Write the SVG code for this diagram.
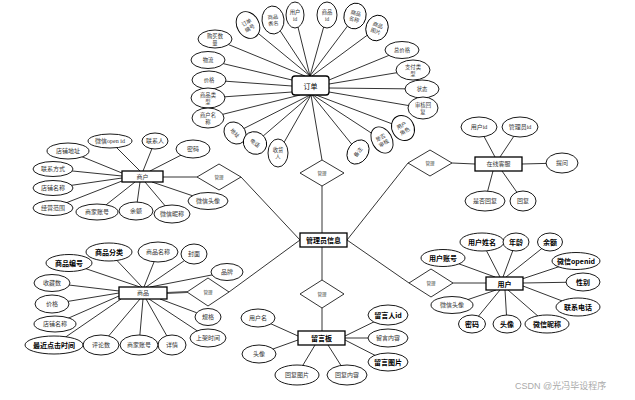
<svg xmlns="http://www.w3.org/2000/svg" width="635" height="400" viewBox="0 0 635 400">
<style>
.l{stroke:#000;stroke-width:0.8;fill:none}
.e{fill:#fff;stroke:#000;stroke-width:0.9}
.r{fill:#fff;stroke:#000;stroke-width:1.3}
.d{fill:#fff;stroke:#000;stroke-width:0.8}
.t{font-family:"Liberation Serif","Noto Sans CJK SC",serif;font-size:6px;fill:#333;text-anchor:middle;dominant-baseline:central}
.s{font-size:5.3px}
.b{font-family:"Noto Sans CJK SC","Liberation Sans",sans-serif;font-weight:bold;font-size:7px;fill:#000;text-anchor:middle;dominant-baseline:central}
.m{font-family:"Liberation Serif","Noto Sans CJK SC",serif;font-size:4.5px;fill:#444;text-anchor:middle;dominant-baseline:central}
.n{font-family:"Noto Sans CJK SC","Liberation Sans",sans-serif;font-size:7px;fill:#000;text-anchor:middle;dominant-baseline:central}
</style>
<rect width="635" height="400" fill="#fff"/>
<g id="connectors">
<!-- order -->
<path class="l" d="M248,25L310,76M273,20L310,76M295,15L310,76M327,15L310,76M355,16L310,76M377,28L312,76M215,39L305,76M208,60L292,80M209,80L292,86M208,98L292,92M208,118L300,95M235,133L310,95M255,143L311,95M278,153L311,95M358,152L312,95M382,140L313,95M403,128L316,95M402,50L329,80M413,70L329,84M422,89L329,88M423,108L329,92M311,95L322,160"/>
<!-- hub -->
<path class="l" d="M322,186L322,233M322,247L322,280M322,308L322,331M300,240L241,177M347,240L408,163M300,240L229,292M347,240L409,283"/>
<!-- merchant -->
<path class="l" d="M110,141L140,171M155,141L143,171M193,149L150,171M68,151L122,173M53,169L122,176M53,188L122,178M53,208L122,181M97,212L135,182M136,211L140,182M172,214L145,182M208,201L152,182M163,177L197,177"/>
<!-- product -->
<path class="l" d="M109,252L142,287M69,263L140,287M158,252L144,287M194,254L146,287M227,272L150,287M52,283L119,291M52,304L119,293M55,324L119,296M54,345L121,299M101,345L140,299M139,345L143,299M172,345L146,299M208,338L149,299M208,317L160,299"/>
<path stroke="#555" stroke-width="2" d="M167,293L187,292"/>
<!-- message board -->
<path class="l" d="M258,318L298,336M259,354L298,340M315,345L297,375M328,345L347,375M345,336L388,315M345,338L388,338M345,340L388,362"/>
<!-- customer service -->
<path class="l" d="M479,127L495,157M520,127L500,157M522,164L562,163M493,171L485,201M502,171L523,201M452,163L475,164"/>
<!-- user -->
<path class="l" d="M443,258L495,277M482,242L500,277M516,242L503,277M550,242L506,277M576,261L522,279M583,282L523,283M578,307L523,286M452,305L496,290M472,324L500,290M507,324L505,290M547,324L508,290M453,283L486,283"/>
</g>

<!-- diamonds -->
<g id="rel-order"><polygon class="d" points="300,173 322,160 344,173 322,186"/><text class="m" x="322" y="173">管理</text></g>
<g id="rel-board"><polygon class="d" points="300,294 322,280 344,294 322,308"/><text class="m" x="322" y="294">管理</text></g>
<g id="rel-merchant"><polygon class="d" points="197,177 219,164 241,177 219,190"/><text class="m" x="219" y="177">管理</text></g>
<g id="rel-product"><polygon class="d" points="187,292 208,278 229,292 208,306"/><text class="m" x="208" y="292">管理</text></g>
<g id="rel-service"><polygon class="d" points="408,163 430,150 452,163 430,176"/><text class="m" x="430" y="163">管理</text></g>
<g id="rel-user"><polygon class="d" points="409,283 431,269 453,283 431,297"/><text class="m" x="431" y="283">管理</text></g>

<!-- entities -->
<g id="order"><rect class="r" x="292" y="76" width="37" height="19" rx="3"/><text class="n" x="310.5" y="85.5" font-size="8">订单</text></g>
<g id="admin"><rect class="r" x="300" y="233" width="47" height="14"/><text class="b" x="323.5" y="240" font-size="7.3">管理员信息</text></g>
<g id="board"><rect class="r" x="298" y="331" width="47" height="14"/><text class="b" x="321.5" y="338" font-size="7.5">留言板</text></g>
<g id="merchant"><rect class="r" x="122" y="171" width="41" height="11"/><text class="t" x="142.5" y="176.5" fill="#000">商户</text></g>
<g id="product"><rect class="r" x="119" y="287" width="48" height="12"/><text class="t" x="143" y="293" fill="#000" font-size="6.5">商品</text></g>
<g id="service"><rect class="r" x="475" y="157" width="47" height="14"/><text class="t" x="498.5" y="164" fill="#000" font-size="7">在线客服</text></g>
<g id="user"><rect class="r" x="486" y="277" width="37" height="13"/><text class="b" x="504.5" y="283.5">用户</text></g>

<!-- order attributes -->
<g id="o-ddbh" transform="translate(248,25) rotate(-30)"><ellipse class="e" rx="11" ry="14"/><text class="t s"><tspan x="0" y="-3">订单</tspan><tspan x="0" y="3.5">编号</tspan></text></g>
<g id="o-spbm" transform="translate(273,20) rotate(-5)"><ellipse class="e" rx="11" ry="14"/><text class="t s"><tspan x="0" y="-3">商品</tspan><tspan x="0" y="3.5">表名</tspan></text></g>
<g id="o-yhid" transform="translate(295,15)"><ellipse class="e" rx="9" ry="13"/><text class="t s"><tspan x="0" y="-3">用户</tspan><tspan x="0" y="3.5">id</tspan></text></g>
<g id="o-spid" transform="translate(327,15)"><ellipse class="e" rx="10" ry="13"/><text class="t s"><tspan x="0" y="-3">商品</tspan><tspan x="0" y="3.5">id</tspan></text></g>
<g id="o-spmc" transform="translate(355,16) rotate(15)"><ellipse class="e" rx="11" ry="13"/><text class="t s"><tspan x="0" y="-3">商品</tspan><tspan x="0" y="3.5">名称</tspan></text></g>
<g id="o-sptp" transform="translate(377,28) rotate(20)"><ellipse class="e" rx="11" ry="13"/><text class="t s"><tspan x="0" y="-3">商品</tspan><tspan x="0" y="3.5">图片</tspan></text></g>
<g id="o-gmsl"><ellipse class="e" cx="215" cy="39" rx="17" ry="9"/><text class="t s"><tspan x="215" y="36">购买数</tspan><tspan x="215" y="42.5">量</tspan></text></g>
<g id="o-wl"><ellipse class="e" cx="208" cy="60" rx="17" ry="8.5"/><text class="t s" x="208" y="60">物流</text></g>
<g id="o-jg"><ellipse class="e" cx="209" cy="80" rx="17" ry="9"/><text class="t s" x="209" y="80">价格</text></g>
<g id="o-splx"><ellipse class="e" cx="208" cy="98" rx="17" ry="10"/><text class="t s"><tspan x="208" y="95">商品类</tspan><tspan x="208" y="101.5">型</tspan></text></g>
<g id="o-shmc"><ellipse class="e" cx="208" cy="118" rx="16" ry="10"/><text class="t s"><tspan x="208" y="115">商户名</tspan><tspan x="208" y="121.5">称</tspan></text></g>
<g id="o-dz" transform="translate(235,133) rotate(45)"><ellipse class="e" rx="12" ry="10"/><text class="t s">地址</text></g>
<g id="o-dh" transform="translate(255,143) rotate(35)"><ellipse class="e" rx="12" ry="11"/><text class="t s">电话</text></g>
<g id="o-shr" transform="translate(278,153)"><ellipse class="e" rx="10" ry="14"/><text class="t s"><tspan x="0" y="-3">收货</tspan><tspan x="0" y="3.5">人</tspan></text></g>
<g id="o-bz" transform="translate(358,152) rotate(-55)"><ellipse class="e" rx="13" ry="10"/><text class="t s">备注</text></g>
<g id="o-sfsh" transform="translate(382,140) rotate(-30)"><ellipse class="e" rx="10" ry="14"/><text class="t s"><tspan x="0" y="-3">是否</tspan><tspan x="0" y="3.5">审核</tspan></text></g>
<g id="o-yhjs" transform="translate(403,128) rotate(-30)"><ellipse class="e" rx="11" ry="13"/><text class="t s"><tspan x="0" y="-3">用户</tspan><tspan x="0" y="3.5">角色</tspan></text></g>
<g id="o-zjg"><ellipse class="e" cx="402" cy="50" rx="17" ry="8.5"/><text class="t s" x="402" y="50">总价格</text></g>
<g id="o-zflx"><ellipse class="e" cx="413" cy="70" rx="17" ry="10"/><text class="t s"><tspan x="413" y="67">支付类</tspan><tspan x="413" y="73.5">型</tspan></text></g>
<g id="o-zt"><ellipse class="e" cx="422" cy="89" rx="17" ry="9"/><text class="t s" x="422" y="89">状态</text></g>
<g id="o-shhf"><ellipse class="e" cx="423" cy="108" rx="15" ry="11"/><text class="t s"><tspan x="423" y="105">审核回</tspan><tspan x="423" y="111.5">复</tspan></text></g>

<!-- merchant attributes -->
<g id="m-openid"><ellipse class="e" cx="110" cy="141" rx="22" ry="7"/><text class="t" x="110" y="141">微信open id</text></g>
<g id="m-lxr"><ellipse class="e" cx="155" cy="141" rx="13" ry="8"/><text class="t" x="155" y="141">联系人</text></g>
<g id="m-mm"><ellipse class="e" cx="193" cy="149" rx="17" ry="9"/><text class="t" x="193" y="149">密码</text></g>
<g id="m-dpdz"><ellipse class="e" cx="68" cy="151" rx="21" ry="8"/><text class="t" x="68" y="151">店铺地址</text></g>
<g id="m-lxfs"><ellipse class="e" cx="53" cy="169" rx="20" ry="7.5"/><text class="t" x="53" y="169">联系方式</text></g>
<g id="m-dpmc"><ellipse class="e" cx="53" cy="188" rx="20" ry="7.5"/><text class="t" x="53" y="188">店铺名称</text></g>
<g id="m-jyfw"><ellipse class="e" cx="53" cy="208" rx="20" ry="7.5"/><text class="t" x="53" y="208">经营范围</text></g>
<g id="m-sjzh"><ellipse class="e" cx="97" cy="212" rx="21" ry="8"/><text class="t" x="97" y="212">商家账号</text></g>
<g id="m-ye"><ellipse class="e" cx="136" cy="211" rx="17" ry="9"/><text class="t" x="136" y="211">余额</text></g>
<g id="m-wxnc"><ellipse class="e" cx="172" cy="214" rx="18" ry="9"/><text class="t" x="172" y="214">微信昵称</text></g>
<g id="m-wxtx"><ellipse class="e" cx="208" cy="201" rx="20" ry="8.5"/><text class="t" x="208" y="201">微信头像</text></g>

<!-- product attributes -->
<g id="p-spfl"><ellipse class="e" cx="109" cy="252" rx="23" ry="9"/><text class="b" x="109" y="252">商品分类</text></g>
<g id="p-spbh"><ellipse class="e" cx="69" cy="263" rx="23" ry="8.5"/><text class="b" x="69" y="263">商品编号</text></g>
<g id="p-spmc"><ellipse class="e" cx="158" cy="252" rx="20" ry="10"/><text class="t" x="158" y="252">商品名称</text></g>
<g id="p-fm"><ellipse class="e" cx="194" cy="254" rx="13" ry="10"/><text class="t" x="194" y="254">封面</text></g>
<g id="p-pp"><ellipse class="e" cx="227" cy="272" rx="16" ry="8.5"/><text class="t" x="227" y="272">品牌</text></g>
<g id="p-scs"><ellipse class="e" cx="52" cy="283" rx="18" ry="8.5"/><text class="t" x="52" y="283">收藏数</text></g>
<g id="p-jg"><ellipse class="e" cx="52" cy="304" rx="17" ry="9"/><text class="t" x="52" y="304">价格</text></g>
<g id="p-dpmc"><ellipse class="e" cx="55" cy="324" rx="21" ry="8"/><text class="t" x="55" y="324">店铺名称</text></g>
<g id="p-gg"><ellipse class="e" cx="208" cy="317" rx="13" ry="8.5"/><text class="t" x="208" y="317">规格</text></g>
<g id="p-sjsj"><ellipse class="e" cx="208" cy="338" rx="18" ry="9"/><text class="t" x="208" y="338">上架时间</text></g>
<g id="p-xq"><ellipse class="e" cx="172" cy="345" rx="14" ry="10"/><text class="t" x="172" y="345">详情</text></g>
<g id="p-sjzh"><ellipse class="e" cx="139" cy="345" rx="19" ry="10"/><text class="t" x="139" y="345">商家账号</text></g>
<g id="p-pls"><ellipse class="e" cx="101" cy="345" rx="18" ry="10"/><text class="t" x="101" y="345">评论数</text></g>
<g id="p-zjdjsj"><ellipse class="e" cx="54" cy="345" rx="29" ry="9"/><text class="b" x="54" y="345">最近点击时间</text></g>

<!-- message board attributes -->
<g id="b-yhm"><ellipse class="e" cx="258" cy="318" rx="17" ry="9"/><text class="t" x="258" y="318">用户名</text></g>
<g id="b-tx"><ellipse class="e" cx="259" cy="354" rx="17" ry="9"/><text class="t" x="259" y="354">头像</text></g>
<g id="b-hftp"><ellipse class="e" cx="297" cy="375" rx="22" ry="10"/><text class="t" x="297" y="375">回复图片</text></g>
<g id="b-hfnr"><ellipse class="e" cx="347" cy="375" rx="20" ry="10"/><text class="t" x="347" y="375">回复内容</text></g>
<g id="b-lyrid"><ellipse class="e" cx="388" cy="315" rx="20" ry="10"/><text class="b" x="388" y="315">留言人id</text></g>
<g id="b-lynr"><ellipse class="e" cx="388" cy="338" rx="20" ry="9"/><text class="t" x="388" y="338">留言内容</text></g>
<g id="b-lytp"><ellipse class="e" cx="388" cy="362" rx="20" ry="9"/><text class="b" x="388" y="362">留言图片</text></g>

<!-- service attributes -->
<g id="s-yhid"><ellipse class="e" cx="479" cy="127" rx="18" ry="10"/><text class="t" x="479" y="127" font-size="6.5">用户id</text></g>
<g id="s-glyid"><ellipse class="e" cx="520" cy="127" rx="18" ry="10"/><text class="t" x="520" y="127" font-size="6.5">管理员id</text></g>
<g id="s-tw"><ellipse class="e" cx="562" cy="163" rx="16" ry="10"/><text class="t" x="562" y="163" font-size="6.5">提问</text></g>
<g id="s-sfhf"><ellipse class="e" cx="485" cy="201" rx="20" ry="10"/><text class="t" x="485" y="201" font-size="6.5">是否回复</text></g>
<g id="s-hf"><ellipse class="e" cx="523" cy="201" rx="13" ry="10"/><text class="t" x="523" y="201" font-size="6.5">回复</text></g>

<!-- user attributes -->
<g id="u-yhzh"><ellipse class="e" cx="443" cy="258" rx="22" ry="8.5"/><text class="b" x="443" y="258">用户账号</text></g>
<g id="u-yhxm"><ellipse class="e" cx="482" cy="242" rx="22" ry="9"/><text class="b" x="482" y="242">用户姓名</text></g>
<g id="u-nl"><ellipse class="e" cx="516" cy="242" rx="13" ry="9"/><text class="b" x="516" y="242">年龄</text></g>
<g id="u-ye"><ellipse class="e" cx="550" cy="242" rx="12.5" ry="9"/><text class="b" x="550" y="242">余额</text></g>
<g id="u-openid"><ellipse class="e" cx="576" cy="261" rx="24" ry="8.5"/><text class="b" x="576" y="261">微信openid</text></g>
<g id="u-xb"><ellipse class="e" cx="583" cy="282" rx="17" ry="9"/><text class="b" x="583" y="282">性别</text></g>
<g id="u-lxdh"><ellipse class="e" cx="578" cy="307" rx="22" ry="9"/><text class="b" x="578" y="307">联系电话</text></g>
<g id="u-wxtx"><ellipse class="e" cx="452" cy="305" rx="21" ry="8.5"/><text class="t" x="452" y="305" font-size="6.5" fill="#555">微信头像</text></g>
<g id="u-mm"><ellipse class="e" cx="472" cy="324" rx="13.5" ry="9"/><text class="b" x="472" y="324">密码</text></g>
<g id="u-tx"><ellipse class="e" cx="507" cy="324" rx="14" ry="9"/><text class="b" x="507" y="324">头像</text></g>
<g id="u-wxnc"><ellipse class="e" cx="547" cy="324" rx="22" ry="9"/><text class="b" x="547" y="324">微信昵称</text></g>

<text x="515" y="389" font-family="Liberation Sans,Noto Sans CJK SC,sans-serif" font-size="9" fill="#aaa">CSDN @光冯毕设程序</text>
</svg>
